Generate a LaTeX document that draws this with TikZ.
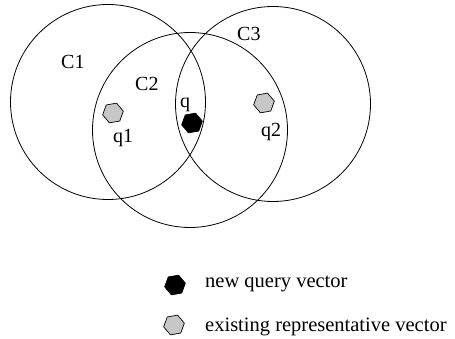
\documentclass[tikz,border=0pt]{standalone}
\usepackage{fontspec}
\setmainfont{Liberation Serif}
\usetikzlibrary{shapes.geometric}
\begin{document}
\begin{tikzpicture}[x=1pt,y=-1pt,
  circ/.style={draw,line width=0.8pt},
  hexq/.style={regular polygon,regular polygon sides=6,minimum size=21pt,inner sep=0pt,draw,line width=0.7pt,shape border rotate=10},
  rep/.style={hexq,fill=black!22},
  newq/.style={hexq,fill=black},
  lbl/.style={font=\fontsize{20}{24}\selectfont,inner sep=0pt,anchor=base west},
  leg/.style={font=\fontsize{20.5}{24}\selectfont,inner sep=0pt,anchor=base west}]
\useasboundingbox (0,0) rectangle (455,339);
\draw[circ] (108,102) circle (97.5);
\draw[circ] (190,130) circle (97.5);
\draw[circ] (273,104) circle (97.5);
\node[lbl] (c1) at (61,69) {C1};
\node[lbl] (c2) at (135,91) {C2};
\node[lbl] (c3) at (237,41) {C3};
\node[lbl] (ql) at (180,108) {q};
\node[lbl] (q1l) at (113,143) {q1};
\node[lbl] (q2l) at (261,137) {q2};
\node[rep] (q1) at (113,113) {};
\node[newq] (q) at (192,123) {};
\node[rep] (q2) at (264,103) {};
\node[newq] (lq) at (175,285) {};
\node[rep] (lr) at (174,325) {};
\node[leg] (t1) at (205,287) {new query vector};
\node[leg] (t2) at (205,331) {existing representative vector};
\end{tikzpicture}
\end{document}
